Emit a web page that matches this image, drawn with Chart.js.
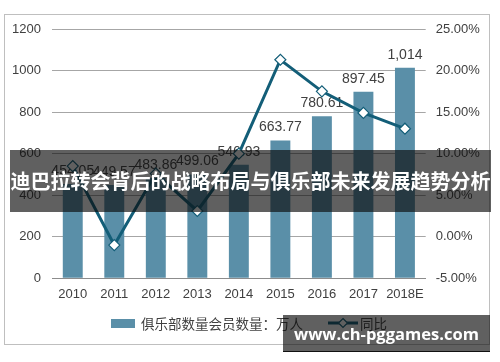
<!DOCTYPE html>
<html>
<head>
<meta charset="utf-8">
<script src="https://cdn.jsdelivr.net/npm/chart.js@4.4.3/dist/chart.umd.min.js"></script>
<style>
  html, body { margin: 0; padding: 0; background: #fff; }
  #wrap { position: relative; width: 500px; height: 362px; overflow: hidden; }
  #frame { position: absolute; left: 4px; top: 14px; width: 484px; height: 329px; border: 1px solid #bfbfbf; }
  canvas { position: absolute; left: 0; top: 0; }
  .legend { position: absolute; top: 314px; height: 18px; font: 13.5px "Noto Sans CJK SC", sans-serif; color: #404040; line-height: 18px; white-space: nowrap; }
  .swatch { position: absolute; left: 111px; top: 319px; width: 24px; height: 9px; background: #5a8fa8; }
  .banner { position: absolute; left: 10px; top: 150px; width: 481px; height: 62px; background: rgba(10,10,10,0.65);
    color: #fff; font: bold 20px "Noto Sans CJK SC", sans-serif; line-height: 62px; text-align: center; white-space: nowrap; }
  .banner span, .mark span { display: inline-block; }
  .mark { position: absolute; left: 283px; top: 315px; width: 207px; height: 36px; background: rgba(10,10,10,0.65);
    border-bottom: 1px solid #111; color: #fff; font: bold 19px "Open Sans", sans-serif; line-height: 36px; text-align: center; white-space: nowrap; }
</style>
</head>
<body>
<div id="wrap">
  <div id="frame"></div>
  <canvas id="chart" width="500" height="362"></canvas>
  <div class="swatch"></div>
  <div class="legend" style="left:141px">俱乐部数量会员数量：万人</div>
  <svg style="position:absolute;left:327px;top:317px" width="32" height="12">
    <line x1="1" y1="6" x2="31" y2="6" stroke="#135e78" stroke-width="3"/>
    <polygon points="16,1.5 20.5,6 16,10.5 11.5,6" fill="#fff" stroke="#135e78" stroke-width="1.2"/>
  </svg>
  <div class="legend" style="left:360px">同比</div>
  <div class="banner"><span id="bannerText">迪巴拉转会背后的战略布局与俱乐部未来发展趋势分析</span></div>
  <div class="mark"><span id="markText">www.ch-pggames.com</span></div>
</div>
<script>
const years = ["2010", "2011", "2012", "2013", "2014", "2015", "2016", "2017", "2018E"];
const members = [454.05, 449.57, 483.86, 499.06, 546.93, 663.77, 780.61, 897.45, 1014];
const memberLabels = ["454.05", "449.57", "483.86", "499.06", "546.93", "663.77", "780.61", "897.45", "1,014"];
const growth = [8.5, -1.0, 7.6, 3.1, 10.0, 21.3, 17.5, 14.9, 13.0];

const barColor = "#5a8fa8";
const lineColor = "#135e78";
const textColor = "#404040";

// stretch overlay texts to the widths seen in the reference
function fitWidth(id, target) {
  const el = document.getElementById(id);
  let size = parseFloat(getComputedStyle(el).fontSize);
  for (let i = 0; i < 20; i++) {
    const w = el.getBoundingClientRect().width;
    if (Math.abs(w - target) < 1) break;
    size = size * target / w;
    el.style.fontSize = `${size}px`;
  }
}
fitWidth("bannerText", 480);
fitWidth("markText", 185);

Chart.defaults.font.family = "'Liberation Sans', Arial, sans-serif";
Chart.defaults.font.size = 13;
Chart.defaults.color = textColor;

const barValueLabels = {
  id: "barValueLabels",
  afterDatasetDraw(chart, args) {
    if (args.index !== 0) {
      return;
    }
    const { ctx } = chart;
    ctx.save();
    ctx.font = "14px 'Liberation Sans', Arial, sans-serif";
    ctx.fillStyle = textColor;
    ctx.textAlign = "center";
    ctx.textBaseline = "middle";
    args.meta.data.forEach((bar, i) => {
      ctx.fillText(memberLabels[i], bar.x, bar.y - 13);
    });
    ctx.restore();
  },
};

new Chart(document.getElementById("chart"), {
  type: "bar",
  data: {
    labels: years,
    datasets: [
      {
        label: "俱乐部数量会员数量：万人",
        data: members,
        backgroundColor: barColor,
        categoryPercentage: 1,
        barPercentage: 0.48,
        yAxisID: "y",
        order: 2,
      },
      {
        type: "line",
        label: "同比",
        data: growth,
        borderColor: lineColor,
        borderWidth: 3,
        pointStyle: "rectRot",
        pointRadius: 5.5,
        pointBackgroundColor: "#fff",
        pointBorderColor: lineColor,
        pointBorderWidth: 1.2,
        tension: 0,
        yAxisID: "y1",
        order: 1,
      },
    ],
  },
  options: {
    responsive: false,
    animation: false,
    layout: { padding: { top: 29, left: 0, right: 0, bottom: 0 } },
    plugins: {
      legend: { display: false },
      tooltip: { enabled: false },
    },
    scales: {
      x: {
        grid: { display: false, drawTicks: false },
        border: { display: true, color: "#8c8c8c", width: 1 },
        ticks: { padding: 8, color: textColor, maxRotation: 0, minRotation: 0, autoSkip: false },
        afterFit(scale) {
          scale.height = 83.7;
        },
      },
      y: {
        position: "left",
        min: 0,
        max: 1200,
        ticks: { stepSize: 200, padding: 11, color: textColor, callback: (value) => String(value) },
        grid: { color: "#a6a6a6", drawTicks: false },
        border: { display: false },
        afterFit(scale) {
          scale.width = 52;
        },
      },
      y1: {
        position: "right",
        min: -5,
        max: 25,
        ticks: {
          stepSize: 5,
          padding: 10,
          color: textColor,
          callback: (value) => `${value.toFixed(2)}%`,
        },
        grid: { drawOnChartArea: false, drawTicks: false },
        border: { display: false },
        afterFit(scale) {
          scale.width = 74.3;
        },
      },
    },
  },
  plugins: [barValueLabels],
});
</script>
</body>
</html>
